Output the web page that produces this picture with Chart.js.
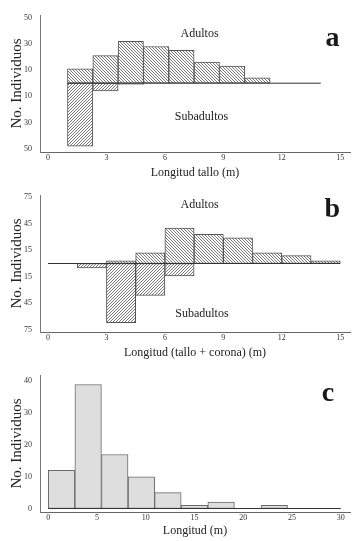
<!DOCTYPE html>
<html>
<head>
<meta charset="utf-8">
<script src="https://cdn.jsdelivr.net/npm/chart.js@4"></script>
<style>
  html, body { margin: 0; padding: 0; background: #fff; }
  canvas { display: block; }
</style>
</head>
<body>
<canvas id="chartA" width="358" height="180"></canvas>
<canvas id="chartB" width="358" height="180"></canvas>
<canvas id="chartC" width="358" height="181"></canvas>
<script>
/* panel a: longitud tallo */
const binsA = [1.65, 2.95, 4.25, 5.55, 6.85, 8.15, 9.45, 10.75];
const adultsA = [11, 21, 32, 28, 25, 16, 13, 4];
const subadultsA = [48, 6, 1, 0, 0, 0, 0, 0];
const baseA = [1, 14];
const yTicksA = [-50, -30, -10, 10, 30, 50];
const xTicksAB = [0, 3, 6, 9, 12, 15];

/* panel b: longitud tallo + corona */
const binsB = [2.25, 3.75, 5.25, 6.75, 8.25, 9.75, 11.25, 12.75, 14.25];
const adultsB = [0, 3, 12, 40, 33, 29, 12, 9, 3];
const subadultsB = [5, 67, 36, 14, 0, 0, 0, 0, 0];
const baseB = [0, 15];
const yTicksB = [-75, -45, -15, 15, 45, 75];

/* panel c: longitud */
const binsC = [1.36, 4.09, 6.82, 9.55, 12.27, 15.0, 17.73, 20.45, 23.18, 25.91, 28.64];
const countsC = [12, 39, 17, 10, 5, 1, 2, 0, 1, 0, 0];
const baseC = [0, 30];
const yTicksC = [0, 10, 20, 30, 40];
const xTicksC = [0, 5, 10, 15, 20, 25, 30];

const SERIF = "'Liberation Serif', 'DejaVu Serif', serif";

function hatch(dir) {
  const n = 3;
  const c = document.createElement('canvas');
  c.width = n; c.height = n;
  const g = c.getContext('2d');
  g.fillStyle = '#fff';
  g.fillRect(0, 0, n, n);
  g.strokeStyle = '#555';
  g.lineWidth = 0.8;
  g.beginPath();
  for (const k of [-n, 0, n]) {
    if (dir === 'back') { g.moveTo(k - 1, -1); g.lineTo(k + n + 1, n + 1); }
    else { g.moveTo(k - 1, n + 1); g.lineTo(k + n + 1, -1); }
  }
  g.stroke();
  return g.createPattern(c, 'repeat');
}
const backHatch = hatch('back');
const fwdHatch = hatch('fwd');

const notes = {
  id: 'notes',
  afterDraw(chart, args, opts) {
    const { ctx, scales: { x, y } } = chart;
    ctx.save();
    ctx.fillStyle = '#1a1a1a';
    ctx.textAlign = 'center';
    (opts.items || []).forEach(t => {
      ctx.font = t.font;
      ctx.textBaseline = t.baseline || 'middle';
      ctx.fillText(t.text, x.getPixelForValue(t.x), y.getPixelForValue(t.y));
    });
    ctx.restore();
  }
};

function pts(xs, ys, sign) {
  return xs.map((v, i) => ({ x: v, y: sign * ys[i] }));
}

function baseline(xs) {
  return { type: 'line', data: xs.map(v => ({ x: v, y: 0 })), borderColor: '#333', borderWidth: 1, pointRadius: 0 };
}

function scalesFor(opt) {
  return {
    x: {
      type: 'linear', min: opt.xMin, max: opt.xMax, offset: false,
      afterBuildTicks: s => { s.ticks = opt.xTicks.map(v => ({ value: v })); },
      afterFit: s => { s.height = opt.xHeight; },
      grid: { display: false, drawTicks: false },
      border: { display: true, color: '#666', width: 1 },
      ticks: { padding: 1, color: '#333', font: { family: SERIF, size: 8 } },
      title: { display: true, text: opt.xTitle, color: '#222', padding: { top: 0, bottom: opt.xTitlePad }, font: { family: SERIF, size: 12 } }
    },
    y: {
      min: opt.yMin, max: opt.yMax,
      afterBuildTicks: s => { s.ticks = opt.yTicks.map(v => ({ value: v })); },
      afterFit: s => { s.width = 40; },
      grid: { display: false, drawTicks: false },
      border: { display: true, color: '#777', width: 1 },
      ticks: { padding: 8, color: '#333', font: { family: SERIF, size: 8 }, callback: v => Math.abs(v) },
      title: { display: true, text: 'No. Individuos', color: '#222', padding: { top: 8, bottom: 0 }, font: { family: SERIF, size: 15 } }
    }
  };
}

function commonOptions(opt, items) {
  return {
    responsive: false,
    animation: false,
    layout: { padding: { top: 15, right: 8, left: 0, bottom: 0 } },
    plugins: { legend: { display: false }, tooltip: { enabled: false }, notes: { items: items } },
    scales: scalesFor(opt)
  };
}

function hatchBars(label, xs, ys, sign, pattern) {
  return { label: label, data: pts(xs, ys, sign), backgroundColor: pattern, borderColor: '#555', borderWidth: 1, borderSkipped: false, grouped: false, barPercentage: 1, categoryPercentage: 1 };
}

new Chart(document.getElementById('chartA'), {
  type: 'bar',
  plugins: [notes],
  data: {
    datasets: [
      baseline(baseA),
      hatchBars('Adultos', binsA, adultsA, 1, backHatch),
      hatchBars('Subadultos', binsA, subadultsA, -1, fwdHatch)
    ]
  },
  options: commonOptions(
    { xMin: -0.41, xMax: 15.5, xTicks: xTicksAB, yMin: -52.5, yMax: 52, yTicks: yTicksA, xHeight: 28, xTitle: 'Longitud tallo (m)', xTitlePad: 0 },
    [
      { text: 'Adultos', x: 7.78, y: 38, font: '12px ' + SERIF },
      { text: 'Subadultos', x: 7.88, y: -26, font: '12px ' + SERIF },
      { text: 'a', x: 14.6, y: 28.4, baseline: 'alphabetic', font: 'bold 28px ' + SERIF }
    ]
  )
});

new Chart(document.getElementById('chartB'), {
  type: 'bar',
  plugins: [notes],
  data: {
    datasets: [
      baseline(baseB),
      hatchBars('Adultos', binsB, adultsB, 1, backHatch),
      hatchBars('Subadultos', binsB, subadultsB, -1, fwdHatch)
    ]
  },
  options: commonOptions(
    { xMin: -0.41, xMax: 15.5, xTicks: xTicksAB, yMin: -77.5, yMax: 77.5, yTicks: yTicksB, xHeight: 28, xTitle: 'Longitud (tallo + corona) (m)', xTitlePad: 0 },
    [
      { text: 'Adultos', x: 7.78, y: 66, font: '12px ' + SERIF },
      { text: 'Subadultos', x: 7.9, y: -57, font: '12px ' + SERIF },
      { text: 'b', x: 14.59, y: 53, baseline: 'alphabetic', font: 'bold 28px ' + SERIF }
    ]
  )
});

new Chart(document.getElementById('chartC'), {
  type: 'bar',
  plugins: [notes],
  data: {
    datasets: [
      baseline(baseC),
      { label: 'Individuos', data: pts(binsC, countsC, 1), backgroundColor: '#dedede', borderColor: '#6a6a6a', borderWidth: 1, borderSkipped: false, grouped: false, barPercentage: 1, categoryPercentage: 1 }
    ]
  },
  options: commonOptions(
    { xMin: -0.85, xMax: 30.95, xTicks: xTicksC, yMin: -1.1, yMax: 42, yTicks: yTicksC, xHeight: 29, xTitle: 'Longitud (m)', xTitlePad: 3 },
    [
      { text: 'c', x: 28.7, y: 33.8, baseline: 'alphabetic', font: 'bold 28px ' + SERIF }
    ]
  )
});
</script>
</body>
</html>
